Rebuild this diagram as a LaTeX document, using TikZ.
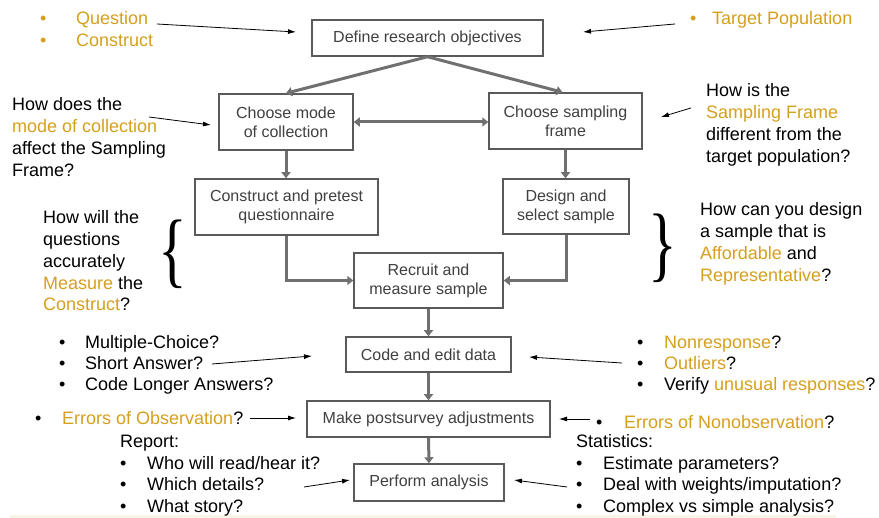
\documentclass[tikz,border=0pt]{standalone}
\usepackage{fontspec}
\setmainfont{Liberation Sans}
\newfontfamily\bracefont{Liberation Serif}
\usetikzlibrary{arrows.meta}
\definecolor{accent}{RGB}{214,160,30}
\definecolor{boxline}{RGB}{90,90,90}
\definecolor{boxtext}{RGB}{64,64,64}
\definecolor{flow}{RGB}{112,112,112}
\definecolor{footband}{RGB}{248,244,230}

\tikzset{
  stepbox/.style={draw=boxline, line width=1.5pt, fill=white, text=boxtext,
    font=\fontsize{16}{19}\selectfont, align=center, inner sep=0pt},
  flowarrow/.style={draw=flow, line width=3pt, -{Triangle[width=9pt,length=6pt]}},
  note/.style={anchor=base west, inner sep=0pt, font=\fontsize{18}{22}\selectfont},
  pointer/.style={draw=black, line width=0.8pt, -{Latex[length=8pt,width=5pt]}},
  bracemark/.style={inner sep=0pt, font=\bracefont\fontsize{83}{83}\selectfont}
}
\newcommand{\hl}[1]{\textcolor{accent}{#1}}

\begin{document}
\begin{tikzpicture}[x=1pt,y=-1pt]
\useasboundingbox (0,0) rectangle (879,518);
\fill[white] (0,0) rectangle (879,518);
\fill[footband] (10,515) rectangle (836,518);

% ---- flow chart boxes ----
\node[stepbox, minimum width=231pt, minimum height=36pt] (define)    at (427.5,38)  {Define research objectives};
\node[stepbox, minimum width=134pt, minimum height=56pt] (mode)      at (286,122)   {Choose mode\\of collection};
\node[stepbox, minimum width=153pt, minimum height=56pt] (sampling)  at (565.5,121) {Choose sampling\\frame};
\node[stepbox, minimum width=183pt, minimum height=56pt] (construct) at (286.5,207) {Construct and pretest\\questionnaire};
\node[stepbox, minimum width=126pt, minimum height=55pt] (design)    at (566,206.5) {Design and\\select sample};
\node[stepbox, minimum width=149pt, minimum height=55pt] (recruit)   at (428.5,280.5) {Recruit and\\measure sample};
\node[stepbox, minimum width=165pt, minimum height=35pt] (code)      at (428.5,354.5) {Code and edit data};
\node[stepbox, minimum width=243pt, minimum height=36pt] (adjust)    at (428.5,419) {Make postsurvey adjustments};
\node[stepbox, minimum width=150pt, minimum height=37pt] (analysis)  at (429,482.5) {Perform analysis};

% ---- flow chart connectors ----
\draw[flowarrow] (define.south) -- (mode.north);
\draw[flowarrow] (define.south) -- ([xshift=-3pt]sampling.north);
\draw[flowarrow, {Triangle[width=9pt,length=6pt]}-{Triangle[width=9pt,length=6pt]}] (mode.east) -- (mode.east -| sampling.west);
\draw[flowarrow] (mode.south) -- (construct.north -| mode.south);
\draw[flowarrow] (sampling.south) -- (design.north -| sampling.south);
\draw[flowarrow] (construct.south) |- (recruit.west);
\draw[flowarrow] (design.south) |- (recruit.east);
\draw[flowarrow] (recruit.south) -- (code.north);
\draw[flowarrow] (code.south) -- (adjust.north);
\draw[flowarrow] (adjust.south) -- (analysis.north);

% ---- top left: research objectives ----
\node[note, text=accent] (b1) at (40,25) {•};
\node[note] (question) at (76,25) {\hl{Question}};
\node[note, text=accent] (b2) at (40,47) {•};
\node[note] (constructq) at (76,47) {\hl{Construct}};

% ---- top right ----
\node[note, text=accent] (b3) at (690,25) {•};
\node[note] (target) at (712,25) {\hl{Target Population}};

% ---- mode of collection question ----
\node[note] (m1) at (12,111) {How does the};
\node[note] (m2) at (12,133) {\hl{mode of collection}};
\node[note] (m3) at (12,155) {affect the Sampling};
\node[note] (m4) at (12,177) {Frame?};

% ---- sampling frame question ----
\node[note] (s1) at (706,97)  {How is the};
\node[note] (s2) at (706,119) {\hl{Sampling Frame}};
\node[note] (s3) at (706,141) {different from the};
\node[note] (s4) at (706,163) {target population?};

% ---- questionnaire question ----
\node[note] (q1) at (43,224) {How will the};
\node[note] (q2) at (43,246) {questions};
\node[note] (q3) at (43,268) {accurately};
\node[note] (q4) at (43,290) {\hl{Measure} the};
\node[note] (q5) at (43,311) {\hl{Construct}?};

% ---- sample design question ----
\node[note] (d1) at (700,216) {How can you design};
\node[note] (d2) at (700,238) {a sample that is};
\node[note] (d3) at (700,260) {\hl{Affordable} and};
\node[note] (d4) at (700,282) {\hl{Representative}?};

% ---- braces ----
\node[bracemark] (lbrace) at (172.5,254) {\scalebox{0.72}[1]{\{}};
\node[bracemark] (rbrace) at (662.5,248) {\scalebox{0.72}[1]{\}}};

% ---- coding lists ----
\node[note] (c1b) at (59,349) {•};
\node[note] (c1)  at (85,349) {Multiple-Choice?};
\node[note] (c2b) at (59,370) {•};
\node[note] (c2)  at (85,370) {Short Answer?};
\node[note] (c3b) at (59,391) {•};
\node[note] (c3)  at (85,391) {Code Longer Answers?};

\node[note] (e1b) at (637,349) {•};
\node[note] (e1)  at (664,349) {\hl{Nonresponse}?};
\node[note] (e2b) at (637,370) {•};
\node[note] (e2)  at (664,370) {\hl{Outliers}?};
\node[note] (e3b) at (637,391) {•};
\node[note] (e3)  at (664,391) {Verify \hl{unusual responses}?};

% ---- adjustment notes ----
\node[note] (o1b) at (35,425) {•};
\node[note] (o1)  at (62,425) {\hl{Errors of Observation}?};
\node[note] (n1b) at (596,429) {•};
\node[note] (n1)  at (624,429) {\hl{Errors of Nonobservation}?};

% ---- report list ----
\node[note] (r0)  at (120,448) {Report:};
\node[note] (r1b) at (120,470) {•};
\node[note] (r1)  at (147,470) {Who will read/hear it?};
\node[note] (r2b) at (120,491) {•};
\node[note] (r2)  at (147,491) {Which details?};
\node[note] (r3b) at (120,513) {•};
\node[note] (r3)  at (147,513) {What story?};

% ---- statistics list ----
\node[note] (t0)  at (576,448) {Statistics:};
\node[note] (t1b) at (576,470) {•};
\node[note] (t1)  at (603,470) {Estimate parameters?};
\node[note] (t2b) at (576,491) {•};
\node[note] (t2)  at (603,491) {Deal with weights/imputation?};
\node[note] (t3b) at (576,513) {•};
\node[note] (t3)  at (603,513) {Complex vs simple analysis?};

% ---- pointer ends ----
\coordinate (pq0) at (157,24);  \coordinate (pq1) at (296,32);
\coordinate (pt0) at (675,24);  \coordinate (pt1) at (583,32);
\coordinate (pm0) at (149,117); \coordinate (pm1) at (211,125);
\coordinate (ps0) at (691,108); \coordinate (ps1) at (661,117);
\coordinate (pc0) at (212,364); \coordinate (pc1) at (312,356);
\coordinate (pe0) at (622,363); \coordinate (pe1) at (529,357);
\coordinate (po0) at (250,418); \coordinate (po1) at (296,418);
\coordinate (pn0) at (590,419); \coordinate (pn1) at (559,419);
\coordinate (pr0) at (304,487); \coordinate (pr1) at (350,480);
\coordinate (pa0) at (567,487); \coordinate (pa1) at (514,480);

% ---- pointers ----
\draw[pointer] (pq0) -- (pq1);
\draw[pointer] (pt0) -- (pt1);
\draw[pointer] (pm0) -- (pm1);
\draw[pointer] (ps0) -- (ps1);
\draw[pointer] (pc0) -- (pc1);
\draw[pointer] (pe0) -- (pe1);
\draw[pointer] (po0) -- (po1);
\draw[pointer] (pn0) -- (pn1);
\draw[pointer] (pr0) -- (pr1);
\draw[pointer] (pa0) -- (pa1);
\end{tikzpicture}
\end{document}
